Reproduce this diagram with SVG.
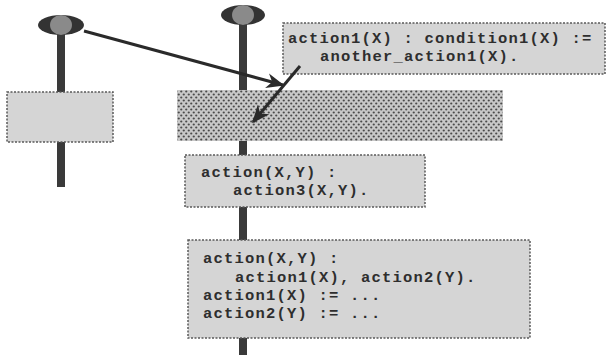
<svg xmlns="http://www.w3.org/2000/svg" width="606" height="360" viewBox="0 0 606 360">
  <style>
    .stem { fill: #3a3a3a; }
    .box { fill: #d5d5d5; stroke: #5a5a5a; stroke-width: 1.5; stroke-dasharray: 2 1.5; }
    .code { font-family: "Liberation Mono", "Courier New", monospace; font-weight: bold; font-size: 15.5px; letter-spacing: 1.2px; fill: #2e2e2e; white-space: pre; }
    .conn { stroke: #2a2a2a; stroke-width: 3; fill: none; }
  </style>
  <defs>
    <pattern id="dots" x="0" y="0" width="5" height="6" patternUnits="userSpaceOnUse">
      <rect width="5" height="6" fill="#c8c8c8"/>
      <circle cx="1.25" cy="1.5" r="1.1" fill="#4a4a4a"/>
      <circle cx="3.75" cy="4.5" r="1.1" fill="#4a4a4a"/>
    </pattern>
    <marker id="head" viewBox="0 0 12 10" refX="11" refY="5" markerWidth="6" markerHeight="5.5" orient="auto" markerUnits="strokeWidth">
      <path d="M0,0 L12,5 L0,10 L3.5,5 Z" fill="#2a2a2a"/>
    </marker>
  </defs>

  <!-- left lifeline -->
  <g id="left-line">
    <rect class="stem" x="57" y="25" width="8" height="162"/>
    <ellipse cx="61" cy="25" rx="23" ry="10" fill="#333"/>
    <ellipse cx="61" cy="25" rx="11" ry="10" fill="#8a8a8a"/>
  </g>
  <g id="left-box">
    <rect class="box" x="7" y="92" width="106" height="50"/>
  </g>

  <!-- main lifeline -->
  <g id="main-line">
    <rect class="stem" x="239" y="15" width="8" height="340"/>
    <ellipse cx="243" cy="15" rx="22" ry="10" fill="#333"/>
    <ellipse cx="243" cy="15" rx="11" ry="10" fill="#8a8a8a"/>
  </g>

  <g id="target-box">
    <rect x="177" y="90" width="326" height="51" fill="url(#dots)"/>
  </g>

  <g id="condition-box">
    <rect class="box" x="283" y="23" width="322" height="51"/>
    <text class="code" x="288" y="43">action1(X) : condition1(X) :=</text>
    <text class="code" x="320" y="61">another_action1(X).</text>
  </g>

  <g id="action3-box">
    <rect class="box" x="185" y="155" width="240" height="52"/>
    <text class="code" x="201" y="177">action(X,Y) :</text>
    <text class="code" x="233" y="195">action3(X,Y).</text>
  </g>

  <g id="action12-box">
    <rect class="box" x="188" y="240" width="342" height="98"/>
    <text class="code" x="203" y="263">action(X,Y) :</text>
    <text class="code" x="235" y="282">action1(X), action2(Y).</text>
    <text class="code" x="203" y="300">action1(X) := ...</text>
    <text class="code" x="203" y="318">action2(Y) := ...</text>
  </g>

  <!-- connectors -->
  <g id="connectors">
    <line class="conn" x1="84" y1="31" x2="283" y2="85" marker-end="url(#head)"/>
    <line class="conn" x1="300" y1="66" x2="253" y2="122" marker-end="url(#head)"/>
  </g>
</svg>
